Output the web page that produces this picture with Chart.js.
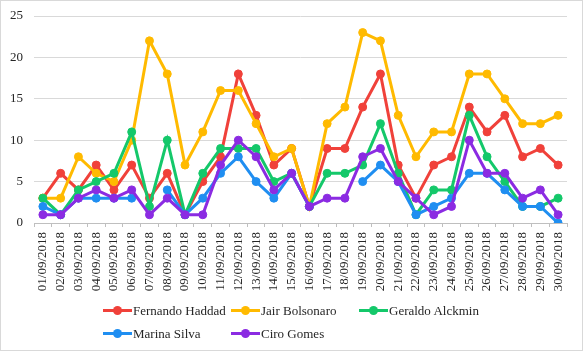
<!DOCTYPE html>
<html>
<head>
<meta charset="utf-8">
<script src="https://cdn.jsdelivr.net/npm/chart.js@4.4.1/dist/chart.umd.min.js"></script>
<style>
body{margin:0;background:#fff;}
.box{position:relative;width:583px;height:351px;}
.frame{position:absolute;left:0;top:0;width:581px;height:349px;border:1px solid #d9d9d9;pointer-events:none;}
#legend{position:absolute;left:103px;top:299px;display:grid;grid-template-columns:128px 128px 128px;grid-auto-rows:23px;font-family:"Liberation Serif",serif;font-size:13px;color:#262626;}
.item{display:flex;align-items:center;white-space:nowrap;}
.mark{position:relative;width:29px;height:9px;margin-right:1px;}
.mark .ln{position:absolute;left:0;top:3px;width:29px;height:3px;}
.mark .dot{position:absolute;left:10px;top:0;width:9px;height:9px;border-radius:50%;}
</style>
</head>
<body>
<div class="box">
  <canvas id="myChart" width="583" height="351"></canvas>
  <div id="legend"></div>
  <div class="frame"></div>
</div>
<script>
var dates = ["01/09/2018","02/09/2018","03/09/2018","04/09/2018","05/09/2018","06/09/2018",
             "07/09/2018","08/09/2018","09/09/2018","10/09/2018","11/09/2018","12/09/2018",
             "13/09/2018","14/09/2018","15/09/2018","16/09/2018","17/09/2018","18/09/2018",
             "19/09/2018","20/09/2018","21/09/2018","22/09/2018","23/09/2018","24/09/2018",
             "25/09/2018","26/09/2018","27/09/2018","28/09/2018","29/09/2018","30/09/2018"];

var names = ["Fernando Haddad","Jair Bolsonaro","Geraldo Alckmin","Marina Silva","Ciro Gomes"];

var haddad    = [3,6,4,7,4,7,3,6,1,5,8,18,13,7,9,2,9,9,14,18,7,3,7,8,14,11,13,8,9,7];
var bolsonaro = [3,3,8,6,5,10,22,18,7,11,16,16,12,8,9,2,12,14,23,22,13,8,11,11,18,18,15,12,12,13];
var alckmin   = [3,1,4,5,6,11,2,10,1,6,9,9,9,5,6,2,6,6,7,12,6,1,4,4,13,8,5,2,2,3];
var marina    = [2,1,3,3,3,3,null,4,1,3,6,8,5,3,6,2,null,null,5,7,5,1,2,3,6,6,4,2,2,0];
var ciro      = [1,1,3,4,3,4,1,3,1,1,7,10,8,4,6,2,3,3,8,9,5,3,1,2,10,6,6,3,4,1];

var yTicks = [0,5,10,15,20,25];

var colors = ["#f0413a","#ffba00","#14c86a","#1f8ef1","#8b2be2"];

function makeDataset(i, values){
  return {
    label: names[i],
    data: values,
    borderColor: colors[i],
    backgroundColor: colors[i],
    pointBackgroundColor: colors[i],
    pointBorderColor: colors[i],
    borderWidth: 3,
    pointRadius: 4,
    pointBorderWidth: 1,
    tension: 0,
    spanGaps: false,
    order: 5 - i
  };
}

function makeLegend(chart){
  var html = "";
  chart.data.datasets.forEach(function(ds){
    html += '<div class="item"><span class="mark"><span class="ln" style="background:' + ds.borderColor +
            '"></span><span class="dot" style="background:' + ds.borderColor + '"></span></span>' + ds.label + '</div>';
  });
  document.getElementById("legend").innerHTML = html;
}

var font = {family: "'Liberation Serif', serif", size: 13};

var ctx = document.getElementById("myChart").getContext("2d");
var myChart = new Chart(ctx, {
  type: "line",
  data: {
    labels: dates,
    datasets: [
      makeDataset(0, haddad),
      makeDataset(1, bolsonaro),
      makeDataset(2, alckmin),
      makeDataset(3, marina),
      makeDataset(4, ciro)
    ]
  },
  options: {
    responsive: false,
    animation: false,
    layout: {padding: {left: 0, right: 16, top: 0, bottom: 58}},
    plugins: {legend: {display: false}, tooltip: {enabled: false}},
    scales: {
      x: {
        offset: true,
        grid: {offset: true, drawOnChartArea: false, tickLength: 4, color: "#bfbfbf"},
        border: {color: "#bfbfbf"},
        ticks: {minRotation: 90, maxRotation: 90, autoSkip: false, padding: 5, font: font, color: "#262626"},
        afterFit: function(s){ s.height = 70; }
      },
      y: {
        min: yTicks[0],
        max: yTicks[yTicks.length - 1],
        afterBuildTicks: function(s){ s.ticks = yTicks.map(function(v){ return {value: v}; }); },
        grid: {color: "#d9d9d9", drawTicks: false},
        border: {display: false},
        ticks: {padding: 11, font: font, color: "#262626"},
        afterFit: function(s){ s.width = 34; s.paddingTop = 16; }
      }
    }
  }
});

makeLegend(myChart);
</script>
</body>
</html>
